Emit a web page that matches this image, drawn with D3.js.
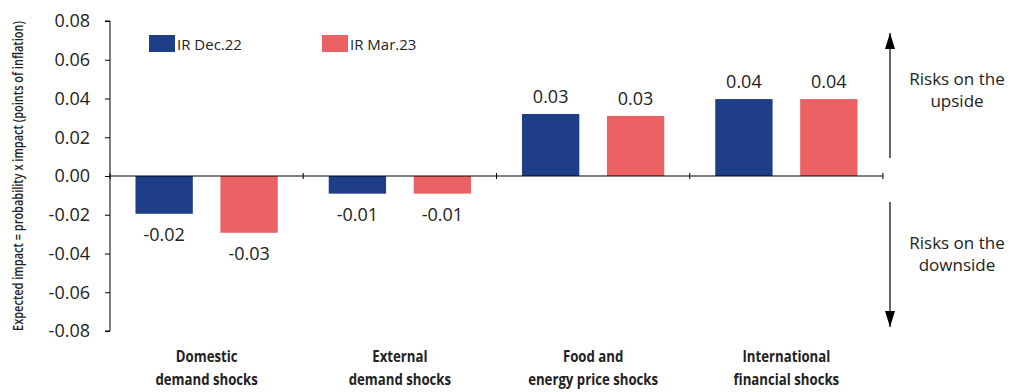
<!DOCTYPE html>
<html>
<head>
<meta charset="utf-8">
<script src="https://cdn.jsdelivr.net/npm/d3@7"></script>
<style>
  body { margin: 0; background: #fff; }
  svg text { font-family: "Open Sans", "Noto Sans", sans-serif; fill: #222; }
</style>
</head>
<body>
<svg id="chart" width="1014" height="392"></svg>
<script>
// Shock categories (two-line labels) and the two forecast vintages
const categories = [
  ["Domestic", "demand shocks"],
  ["External", "demand shocks"],
  ["Food and", "energy price shocks"],
  ["International", "financial shocks"]
];
const seriesNames = ["IR Dec.22", "IR Mar.23"];
const irDec22 = [-0.0195, -0.0091, 0.032, 0.0397];
const irMar23 = [-0.0293, -0.0091, 0.031, 0.0397];
const yTicks = [-0.08, -0.06, -0.04, -0.02, 0, 0.02, 0.04, 0.06, 0.08];
const colors = ["#1f3e88", "#ec6264"];
const yTitle = "Expected impact = probability x impact (points of inflation)";

// Plain hyphen for negative numbers
const fmt = d3.formatLocale({ decimal: ".", thousands: ",", grouping: [3], currency: ["", ""], minus: "-" }).format(".2f");

const svg = d3.select("#chart");
const plotLeft = 110, plotRight = 883, plotTop = 21, plotBottom = 331;

const y = d3.scaleLinear().domain([-0.08, 0.08]).range([plotBottom, plotTop]);
const x0 = d3.scaleBand().domain(d3.range(categories.length)).range([plotLeft, plotRight]);
const x1 = d3.scaleBand().domain(d3.range(seriesNames.length))
  .range([0, x0.bandwidth()]).paddingInner(0.325).paddingOuter(0.3);

// Y axis
const yAxis = svg.append("g").attr("transform", `translate(${plotLeft},0)`)
  .call(d3.axisLeft(y).tickValues(yTicks).tickFormat(fmt).tickSize(5).tickPadding(15));
yAxis.select(".domain").attr("stroke", "#000").attr("d", `M-5,${plotTop}H0V${plotBottom}H-5`);
yAxis.selectAll(".tick line").attr("stroke", "#000");
yAxis.selectAll(".tick text").attr("font-size", 18).attr("fill", "#222")
  .style("font-family", '"Open Sans", "Noto Sans", sans-serif');

// Y axis title, condensed horizontally to fit the axis height
const title = svg.append("text")
  .attr("text-anchor", "middle")
  .attr("font-size", 14).attr("font-weight", 600).attr("fill", "#111")
  .text(yTitle);
const tLen = title.node().getComputedTextLength();
title.attr("transform", `translate(23,${(plotTop + plotBottom) / 2}) rotate(-90) scale(${310 / tLen},1)`);

// Bars with value labels
const series = [irDec22, irMar23];
const groups = svg.append("g");
categories.forEach((c, i) => {
  series.forEach((vals, s) => {
    const v = vals[i];
    const bx = x0(i) + x1(s);
    groups.append("rect")
      .attr("x", bx).attr("width", x1.bandwidth())
      .attr("y", y(Math.max(0, v)))
      .attr("height", Math.abs(y(v) - y(0)))
      .attr("fill", colors[s]);
    groups.append("text")
      .attr("x", bx + x1.bandwidth() / 2)
      .attr("y", v >= 0 ? y(v) - 11 : y(v) + 27)
      .attr("text-anchor", "middle").attr("font-size", 18).attr("fill", "#222")
      .text(fmt(v));
  });
});

// Zero baseline with category separators
const xAxis = svg.append("g").attr("transform", `translate(0,${y(0)})`);
xAxis.append("line").attr("x1", plotLeft).attr("x2", plotRight).attr("stroke", "#000").attr("stroke-width", 1.2);
d3.range(categories.length + 1).forEach(i => {
  const tx = i < categories.length ? x0(i) : plotRight;
  xAxis.append("line").attr("x1", tx).attr("x2", tx).attr("y1", -3).attr("y2", 3).attr("stroke", "#000");
});

// Category labels (bold, condensed), one text per line
categories.forEach((c, i) => {
  const cx = x0(i) + x0.bandwidth() / 2;
  c.forEach((line, k) => {
    svg.append("text")
      .attr("transform", `translate(${cx},${362 + k * 23}) scale(0.8,1)`)
      .attr("text-anchor", "middle").attr("font-size", 16.5).attr("font-weight", 700).attr("fill", "#000")
      .text(line);
  });
});

// Legend
const legendX = [149, 322];
seriesNames.forEach((n, s) => {
  svg.append("rect").attr("x", legendX[s]).attr("y", 35).attr("width", 26).attr("height", 17).attr("fill", colors[s]);
  svg.append("text").attr("x", legendX[s] + 28).attr("y", 50).attr("font-size", 15).attr("fill", "#333").text(n);
});

// Upside / downside arrows
const defs = svg.append("defs");
defs.append("marker").attr("id", "arrowhead").attr("viewBox", "0 0 16 10")
  .attr("refX", 16).attr("refY", 5).attr("markerWidth", 16).attr("markerHeight", 10)
  .attr("markerUnits", "userSpaceOnUse").attr("orient", "auto")
  .append("path").attr("d", "M0,0 L16,5 L0,10 z").attr("fill", "#000");
const ax = 890;
svg.append("line").attr("x1", ax).attr("x2", ax).attr("y1", 158).attr("y2", 33)
  .attr("stroke", "#000").attr("stroke-width", 1.2).attr("marker-end", "url(#arrowhead)");
svg.append("line").attr("x1", ax).attr("x2", ax).attr("y1", 202).attr("y2", 327)
  .attr("stroke", "#000").attr("stroke-width", 1.2).attr("marker-end", "url(#arrowhead)");

const riskLabels = [[["Risks on the", "upside"], 85], [["Risks on the", "downside"], 249]];
riskLabels.forEach(([lines, yy]) => {
  lines.forEach((l, k) => {
    svg.append("text").attr("x", 957).attr("y", yy + k * 22).attr("text-anchor", "middle")
      .attr("font-size", 17).attr("fill", "#333").text(l);
  });
});
</script>
</body>
</html>
